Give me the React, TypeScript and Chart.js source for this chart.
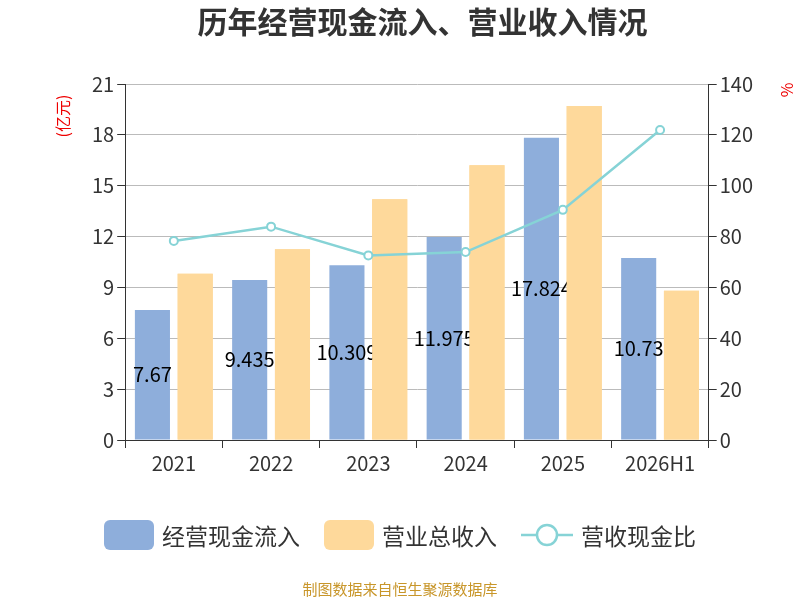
import React, { useEffect, useRef } from "react";
import { Chart, registerables } from "chart.js";
Chart.register(...registerables);

const categories = ["2021", "2022", "2023", "2024", "2025", "2026H1"];
const cashInflow = [7.67, 9.435, 10.309, 11.975, 17.824, 10.73];
const revenue = [9.8, 11.25, 14.2, 16.2, 19.7, 8.8];
const ratio = [78.3, 83.9, 72.6, 73.9, 90.5, 121.9];
const FONT = "'Noto Sans CJK SC', 'Noto Sans', sans-serif";

export default function App() {
  const ref = useRef<HTMLCanvasElement>(null);
  useEffect(() => {
    const labelPlugin = {
      id: "lbl",
      afterDatasetDraw(chart: any, args: any) {
        if (args.index !== 0) return;
        const ctx = chart.ctx;
        const meta = chart.getDatasetMeta(0);
        ctx.save();
        ctx.font = `20px ${FONT}`;
        ctx.fillStyle = "#000";
        ctx.textAlign = "center";
        ctx.textBaseline = "middle";
        meta.data.forEach((b: any, i: number) => {
          ctx.fillText(String(cashInflow[i]), b.x, (b.y + b.base) / 2);
        });
        ctx.restore();
        ctx.save();
        chart.getDatasetMeta(1).data.forEach((el: any) => el.draw(ctx, chart.chartArea));
        ctx.restore();
      },
      afterDraw(chart: any) {
        const ctx = chart.ctx;
        ctx.save();
        ctx.font = `16px ${FONT}`;
        ctx.fillStyle = "#e00";
        ctx.textAlign = "center";
        ctx.textBaseline = "middle";
        ctx.translate(63, 116);
        ctx.rotate(-Math.PI / 2);
        ctx.fillText("(亿元)", 0, 0);
        ctx.restore();
        ctx.save();
        ctx.font = `16px ${FONT}`;
        ctx.fillStyle = "#e00";
        ctx.textAlign = "center";
        ctx.textBaseline = "middle";
        ctx.translate(787, 90);
        ctx.rotate(-Math.PI / 2);
        ctx.fillText("%", 0, 0);
        ctx.restore();
      },
    };
    const chart = new Chart(ref.current!, {
      type: "bar",
      data: {
        labels: categories,
        datasets: [
          { label: "经营现金流入", data: cashInflow, backgroundColor: "#8eaedb", yAxisID: "y", order: 1, barPercentage: 0.82, categoryPercentage: 0.88 },
          { label: "营业总收入", data: revenue, backgroundColor: "#fed99b", yAxisID: "y", order: 1, barPercentage: 0.82, categoryPercentage: 0.88 },
          { type: "line", label: "营收现金比", data: ratio, borderColor: "#86d3d6", backgroundColor: "#fff", borderWidth: 2.5, pointRadius: 4, pointBorderWidth: 2, yAxisID: "y1", order: 0 } as any,
        ],
      },
      options: {
        animation: false,
        responsive: false,
        layout: { padding: { left: 89, right: 44, top: 0, bottom: 122 } },
        plugins: {
          legend: { display: false },
          tooltip: { enabled: false },
          title: { display: true, text: "历年经营现金流入、营业收入情况", font: { family: FONT, size: 30, weight: "bold" }, color: "#333", padding: { top: 4, bottom: 44 } },
        },
        scales: {
          x: {
            grid: { display: true, drawOnChartArea: false, offset: true, color: "#333", tickLength: 8 },
            border: { color: "#333" },
            ticks: { font: { family: FONT, size: 20 }, color: "#333" },
          },
          y: {
            min: 0, max: 21,
            ticks: { stepSize: 3, font: { family: FONT, size: 20 }, color: "#333" },
            grid: { color: "#bbb", tickLength: 8, tickColor: "#333" },
            border: { color: "#333" },
          },
          y1: {
            position: "right", min: 0, max: 140,
            ticks: { stepSize: 20, font: { family: FONT, size: 20 }, color: "#333" },
            grid: { drawOnChartArea: false, tickLength: 8, color: "#333" },
            border: { color: "#333" },
          },
        },
      },
      plugins: [labelPlugin],
    } as any);
    return () => chart.destroy();
  }, []);
  const item = { display: "flex", alignItems: "center", gap: 8 } as const;
  return (
    <div style={{ position: "fixed", left: 0, top: 0, width: 800, height: 600, background: "#fff", fontFamily: FONT }}>
      <canvas ref={ref} width={800} height={600} />
      <div style={{ position: "absolute", top: 518, left: 0, width: 800, display: "flex", justifyContent: "center", gap: 24, fontSize: 23, color: "#333" }}>
        <div style={item}><span style={{ width: 50, height: 30, borderRadius: 6, background: "#8eaedb", display: "inline-block" }} />经营现金流入</div>
        <div style={item}><span style={{ width: 50, height: 30, borderRadius: 6, background: "#fed99b", display: "inline-block" }} />营业总收入</div>
        <div style={item}>
          <svg width="52" height="30"><line x1="0" y1="15" x2="52" y2="15" stroke="#86d3d6" strokeWidth="2.5" /><circle cx="26" cy="15" r="10" fill="#fff" stroke="#86d3d6" strokeWidth="2.5" /></svg>
          营收现金比
        </div>
      </div>
      <div style={{ position: "absolute", top: 578, width: 800, textAlign: "center", fontSize: 15, color: "#c8962a" }}>制图数据来自恒生聚源数据库</div>
    </div>
  );
}
